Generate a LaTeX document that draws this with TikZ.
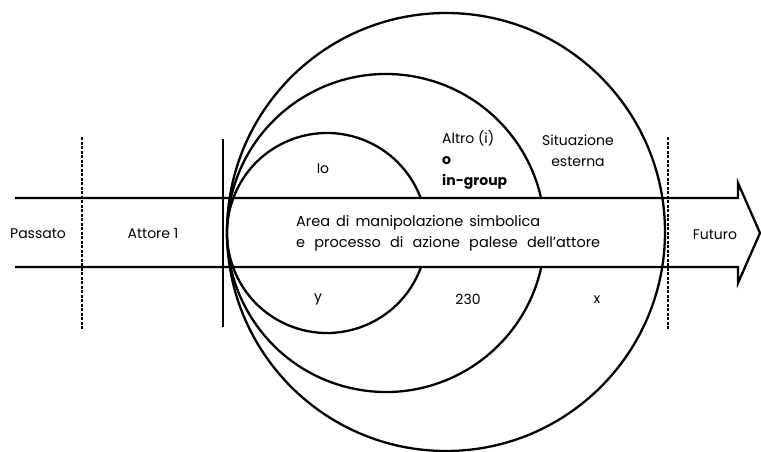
\documentclass[tikz,border=0pt]{standalone}
\usepackage{fontspec}
\setmainfont{Poppins}
\begin{document}
\begin{tikzpicture}[x=1pt,y=-1pt,
  thick line/.style={line width=2.3pt},
  dashline/.style={line width=2pt,dash pattern=on 3pt off 1.5pt},
  lbl/.style={inner sep=0pt,font=\fontsize{14}{21}\selectfont}]
\useasboundingbox (0,0) rectangle (761,452);
% band / arrow
\coordinate (bl1) at (15,198);
\coordinate (bl2) at (15,267);
\coordinate (ah1) at (738,198);
\coordinate (ah2) at (738,183);
\coordinate (tip) at (760,233);
\coordinate (ah3) at (738,283);
\coordinate (ah4) at (738,267);
\draw[thick line,line join=miter] (bl1) -- (ah1) -- (ah2) -- (tip) -- (ah3) -- (ah4) -- (bl2);
% vertical lines
\coordinate (d1a) at (82,137); \coordinate (d1b) at (82,329);
\coordinate (d2a) at (668,137); \coordinate (d2b) at (668,329);
\coordinate (va) at (223,139); \coordinate (vb) at (223,327);
\draw[dashline] (d1a) -- (d1b);
\draw[dashline] (d2a) -- (d2b);
\draw[thick line] (va) -- (vb);
% circles
\coordinate (c1) at (327,233);
\coordinate (c2) at (386,233);
\coordinate (c3) at (446,232);
\draw[thick line] (c1) ++(19.9:100) arc[start angle=19.9,end angle=339.5,radius=100];
\draw[thick line] (c2) ++(12.3:159) arc[start angle=12.3,end angle=347.3,radius=159];
\draw[thick line] (c3) circle[radius=219];
% labels
\node[lbl] (passato) at (38,234) {Passato};
\node[lbl] (attore) at (153,234) {Attore 1};
\node[lbl,anchor=west,align=left,font=\fontsize{14.5}{21}\selectfont] (area) at (296,233)
  {\makebox[244pt][s]{Area di manipolazione simbolica}\\\makebox[304pt][s]{e processo di azione palese dell'attore}};
\node[lbl] (futuro) at (715,235) {Futuro};
\node[lbl] (io) at (323,169) {Io};
\node[lbl,anchor=west,align=left] (altro) at (442,160) {Altro (i)\\\textbf{o}\\\textbf{in-group}};
\node[lbl,align=center] (sit) at (578,151) {Situazione\\esterna};
\node[lbl] (y) at (318,299) {y};
\node[lbl] (n230) at (468,299) {230};
\node[lbl] (x) at (597,300) {x};
\end{tikzpicture}
\end{document}
